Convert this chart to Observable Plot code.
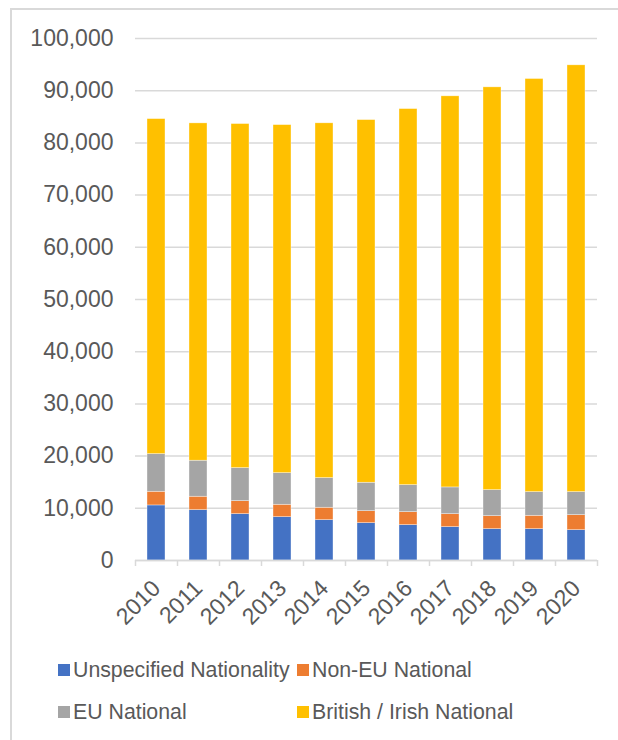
<!DOCTYPE html>
<html>
<head>
<meta charset="utf-8">
<script src="https://cdn.jsdelivr.net/npm/d3@7"></script>
<script src="https://cdn.jsdelivr.net/npm/@observablehq/plot@0.6"></script>
<style>
  html, body { margin: 0; padding: 0; background: #fff; }
  body { width: 618px; height: 740px; position: relative; overflow: hidden; font-family: "Liberation Sans", Arial, sans-serif; color: #595959; }
  #frame { position: absolute; left: 10px; top: 8px; width: 700px; height: 800px; border-left: 2px solid #D9D9D9; border-top: 2px solid #D9D9D9; box-sizing: border-box; }
  #chart { position: absolute; left: 0; top: 0; }
  .leg { position: absolute; display: flex; align-items: center; font-size: 21.3px; white-space: nowrap; }
  .sw { width: 12px; height: 12px; margin-right: 3px; flex: none; }
</style>
</head>
<body>
<div id="frame"></div>
<div id="chart"></div>
<div id="legend"></div>
<script>
const years = ["2010","2011","2012","2013","2014","2015","2016","2017","2018","2019","2020"];
const seriesNames = ["Unspecified Nationality","Non-EU National","EU National","British / Irish National"];
const seriesColors = ["#4472C4","#ED7D31","#A5A5A5","#FFC000"];
const unspecified = [10550, 9650, 8880, 8300, 7730, 7150, 6770, 6390, 6000, 6000, 5810];
const nonEU       = [2620, 2570, 2490, 2380, 2380, 2300, 2490, 2490, 2500, 2570, 2880];
const eu          = [7210, 6900, 6330, 6060, 5680, 5450, 5180, 5120, 4980, 4530, 4410];
const british     = [64180, 64620, 65910, 66670, 67960, 69470, 72040, 74920, 77160, 79140, 81760];
const yTicks = [0,10000,20000,30000,40000,50000,60000,70000,80000,90000,100000];

const seriesValues = [unspecified, nonEU, eu, british];
const data = [];
seriesNames.forEach((s, si) => years.forEach((y, i) => data.push({year: y, series: s, value: seriesValues[si][i]})));

const W = 618, H = 640, ML = 135, MR = 21, MT = 38, MB = 80;
const half = (W - ML - MR) / years.length / 2;

const plot = Plot.plot({
  width: W, height: H,
  marginLeft: ML, marginRight: MR, marginTop: MT, marginBottom: MB,
  style: {fontFamily: "'Liberation Sans', Arial, sans-serif", color: "#595959", background: "transparent", overflow: "visible"},
  x: {domain: years, paddingInner: 0.57, paddingOuter: 0.285, axis: null, label: null},
  y: {domain: [0, 100000], axis: null, label: null},
  color: {domain: seriesNames, range: seriesColors},
  marks: [
    Plot.gridY(yTicks, {stroke: "#D9D9D9", strokeOpacity: 1, strokeWidth: 1.5}),
    Plot.barY(data, {x: "year", y: "value", fill: "series", order: seriesNames, stroke: "white", strokeWidth: 0.6, strokeOpacity: 0.6}),
    Plot.ruleY([0], {stroke: "#D9D9D9", strokeWidth: 1.5}),
    Plot.axisY(yTicks, {tickSize: 0, tickPadding: 22, fontSize: 23, tickFormat: d3.format(","), fill: "#595959", label: null}),
    Plot.axisX(years, {tickSize: 6, tickFormat: () => "", dx: -half, stroke: "#D9D9D9", strokeWidth: 1.5, label: null}),
    Plot.axisX([years[years.length - 1]], {tickSize: 6, tickFormat: () => "", dx: half, stroke: "#D9D9D9", strokeWidth: 1.5, label: null}),
    Plot.axisX(years, {tickSize: 0, tickPadding: 24, tickRotate: -45, fontSize: 23, fill: "#595959", label: null})
  ]
});
document.getElementById("chart").appendChild(plot);

const legendPos = [[58, 670], [297, 670], [58, 712], [297, 712]];
const leg = document.getElementById("legend");
seriesNames.forEach((s, i) => {
  const d = document.createElement("div");
  d.className = "leg";
  d.style.left = legendPos[i][0] + "px";
  d.style.top = (legendPos[i][1] - 13) + "px";
  d.style.height = "26px";
  const sw = document.createElement("span");
  sw.className = "sw";
  sw.style.background = seriesColors[i];
  const t = document.createElement("span");
  t.textContent = s;
  d.appendChild(sw); d.appendChild(t);
  leg.appendChild(d);
});
</script>
</body>
</html>
